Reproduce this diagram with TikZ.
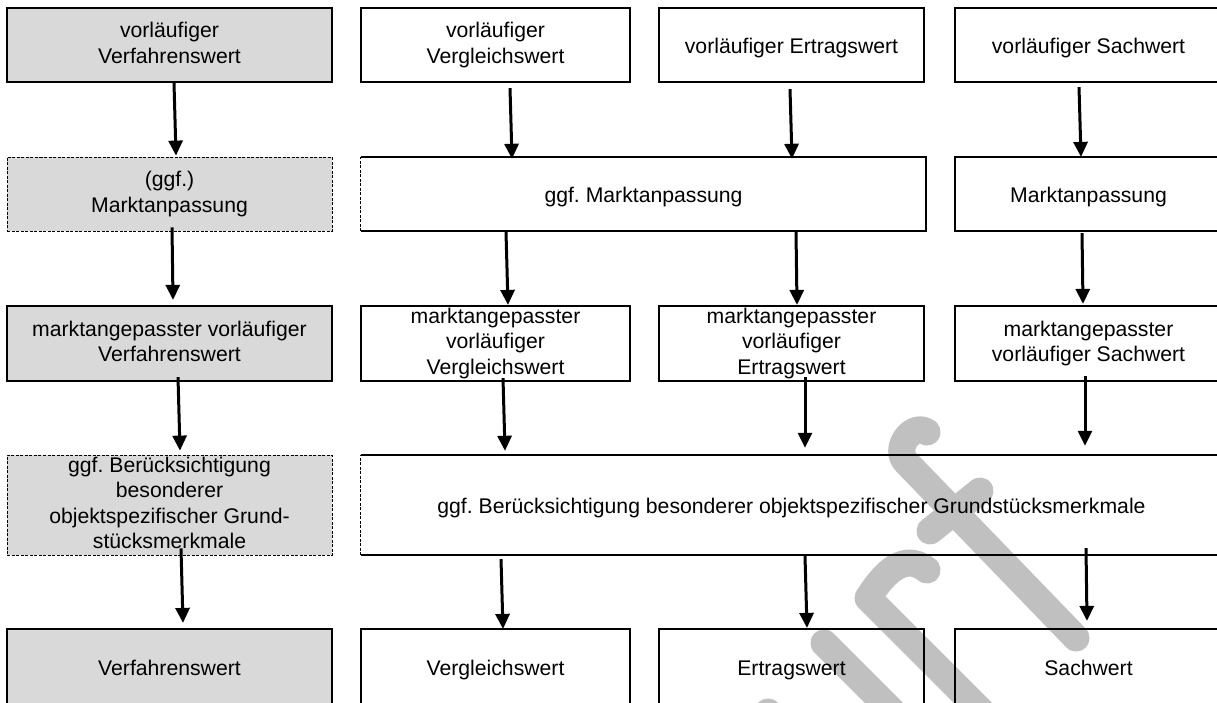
\documentclass[tikz,border=0pt]{standalone}
\usepackage{fontspec}
\setmainfont{Liberation Sans}
\usetikzlibrary{arrows.meta}
\definecolor{boxgray}{RGB}{217,217,217}
\definecolor{wmgray}{RGB}{192,192,192}
\frenchspacing
\begin{document}
\begin{tikzpicture}[x=1pt,y=-1pt,
  every node/.style={font=\fontsize{21.2}{25.5}\selectfont, align=center, inner sep=0pt, rectangle,
    execute at begin node={\rule{0pt}{20.5pt}}, execute at end node={\rule[-4.5pt]{0pt}{4.5pt}}},
  whitebox/.style={draw, line width=2.2pt},
  graybox/.style={whitebox, fill=boxgray},
  dashgray/.style={draw, line width=0.8pt, dash pattern=on 3pt off 1.5pt, fill=boxgray},
  solidside/.style={line width=2.2pt},
  dashside/.style={line width=0.8pt, dash pattern=on 3pt off 1.5pt},
  arr/.style={line width=3pt, -{Triangle[width=14pt,length=15pt]}},
  wm/.style={wmgray, line width=27pt, line cap=round, line join=round}]
\clip (0,0) rectangle (1217,702);

% watermark (partly visible)
\draw[wm] (927,432) .. controls (912,422) and (893,449) .. (906,462) -- (1076,638);
\draw[wm] (930,531) -- (980,491);
\draw[wm] (870,595) .. controls (885,572) and (905,552) .. (927,570);
\draw[wm] (868,598) -- (990,720);
\draw[wm] (824,643) -- (900,719);
\draw[wm] (768,712) -- (800,744);

% row 1
\node[graybox, minimum width=325pt, minimum height=74pt] (L1) at (169.5,45) {vorläufiger\\Verfahrenswert};
\node[whitebox, minimum width=269pt, minimum height=74pt] (V1) at (495.5,45) {vorläufiger\\Vergleichswert};
\node[whitebox, minimum width=265pt, minimum height=74pt] (E1) at (791.5,45) {vorläufiger Ertragswert};
\node[whitebox, minimum width=267pt, minimum height=74pt] (S1) at (1088.5,45) {vorläufiger Sachwert};

% row 2
\node[dashgray, minimum width=325pt, minimum height=74pt] (L2) at (169.5,194) {(ggf.)\\Marktanpassung};
\node[minimum width=565pt, minimum height=74pt] (M2) at (643.5,194) {ggf. Marktanpassung};
\draw[solidside] (M2.north west) -- (M2.north east) -- (M2.south east) -- (M2.south west);
\draw[dashside] (M2.south west) -- (M2.north west);
\node[whitebox, minimum width=267pt, minimum height=74pt] (S2) at (1088.5,194) {Marktanpassung};

% row 3
\node[graybox, minimum width=325pt, minimum height=75pt] (L3) at (169.5,343.5) {marktangepasster vorläufiger\\Verfahrenswert};
\node[whitebox, minimum width=269pt, minimum height=75pt] (V3) at (495.5,343.5) {marktangepasster\\vorläufiger\\Vergleichswert};
\node[whitebox, minimum width=265pt, minimum height=75pt] (E3) at (791.5,343.5) {marktangepasster\\vorläufiger\\Ertragswert};
\node[whitebox, minimum width=267pt, minimum height=75pt] (S3) at (1088.5,343.5) {marktangepasster\\vorläufiger Sachwert};

% row 4
\node[dashgray, minimum width=325pt, minimum height=100pt] (L4) at (169.5,505) {ggf. Berücksichtigung\\besonderer\\objektspezifischer Grund-\\stücksmerkmale};
\node[minimum width=861pt, minimum height=100pt] (B4) at (791.5,505) {ggf. Berücksichtigung besonderer objektspezifischer Grundstücksmerkmale};
\draw[solidside] (B4.north west) -- (B4.north east) -- (B4.south east) -- (B4.south west);
\draw[dashside] (B4.south west) -- (B4.north west);

% row 5
\node[graybox, minimum width=325pt, minimum height=77pt] (L5) at (169.5,667.5) {Verfahrenswert};
\node[whitebox, minimum width=269pt, minimum height=77pt] (V5) at (495.5,667.5) {Vergleichswert};
\node[whitebox, minimum width=265pt, minimum height=77pt] (E5) at (791.5,667.5) {Ertragswert};
\node[whitebox, minimum width=267pt, minimum height=77pt] (S5) at (1088.5,667.5) {Sachwert};

% arrows, left column
\draw[arr] ([xshift=4.5pt]L1.south) -- ([xshift=6.5pt,yshift=1pt]L2.north);
\draw[arr] ([xshift=2.5pt,yshift=4pt]L2.south) -- ([xshift=3.5pt,yshift=5pt]L3.north);
\draw[arr] ([xshift=8.5pt,yshift=5pt]L3.south) -- ([xshift=10.5pt,yshift=4pt]L4.north);
\draw[arr] ([xshift=11.5pt,yshift=7pt]L4.south) -- ([xshift=13.5pt,yshift=5pt]L5.north);
% Vergleichswert column
\draw[arr] ([xshift=14.5pt,yshift=-5pt]V1.south) -- ([xshift=-131.5pt,yshift=-2pt]M2.north);
\draw[arr] ([xshift=-137.5pt,yshift=-1pt]M2.south) -- ([xshift=12.5pt]V3.north);
\draw[arr] ([xshift=7.5pt,yshift=4pt]V3.south) -- ([xshift=-286.5pt,yshift=4pt]B4.north);
\draw[arr] ([xshift=-290.5pt,yshift=-4pt]B4.south) -- ([xshift=7.5pt,yshift=-1pt]V5.north);
% Ertragswert column
\draw[arr] ([xshift=-1.5pt,yshift=-6pt]E1.south) -- ([xshift=148.5pt,yshift=-2pt]M2.north);
\draw[arr] ([xshift=152.5pt,yshift=-1pt]M2.south) -- ([xshift=5.5pt]E3.north);
\draw[arr] ([xshift=13.5pt,yshift=5pt]E3.south) -- ([xshift=13.5pt,yshift=7pt]B4.north);
\draw[arr] ([xshift=13.5pt,yshift=-1pt]B4.south) -- ([xshift=15.5pt]E5.north);
% Sachwert column
\draw[arr] ([xshift=-9.5pt,yshift=-4pt]S1.south) -- ([xshift=-7.5pt,yshift=-1pt]S2.north);
\draw[arr] ([xshift=-6.5pt,yshift=-1pt]S2.south) -- ([xshift=-5.5pt,yshift=1pt]S3.north);
\draw[arr] ([xshift=-3.5pt,yshift=6pt]S3.south) -- ([xshift=293.5pt,yshift=9pt]B4.north);
\draw[arr] ([xshift=294.5pt,yshift=7pt]B4.south) -- ([xshift=-1.5pt,yshift=7pt]S5.north);
\end{tikzpicture}
\end{document}
